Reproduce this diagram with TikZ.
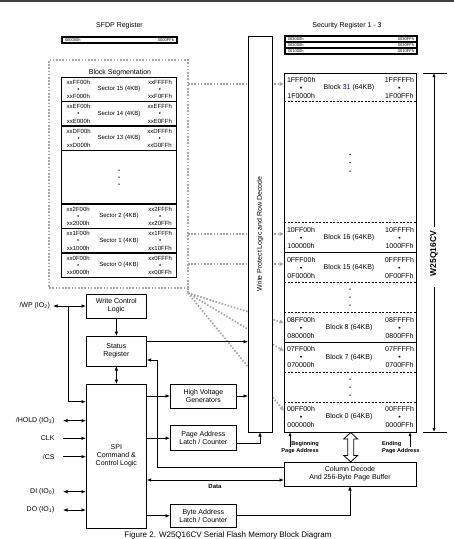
\documentclass[tikz,border=0pt]{standalone}
\usepackage{fontspec}
\setmainfont{Liberation Sans}
\usetikzlibrary{arrows.meta}
\newcommand\sectorrow[7]{%
  \node[st,anchor=west] (#1l) at (66.7,#2) {#3\\•\\#4};
  \node[st] (#1c) at (119,#2) {#5};
  \node[st,anchor=east] (#1r) at (172,#2) {#6\\•\\#7};}
\newcommand\memrow[7]{%
  \node[mt,anchor=west] (#1l) at (287,#2) {#3\\•\\#4};
  \node[mt] (#1c) at (349,#2) {#5};
  \node[mt,anchor=east] (#1r) at (414,#2) {#6\\•\\#7};}
\begin{document}
\begin{tikzpicture}[x=1pt,y=-1pt,
  box/.style={draw,line width=0.9pt,inner sep=0pt,outer sep=0pt,align=center,font=\fontsize{7}{8}\selectfont},
  ln/.style={line width=0.8pt},
  arr/.style={ln,-{Latex[length=4.5pt,width=3.6pt]}},
  darr/.style={ln,{Latex[length=4.5pt,width=3.6pt]}-{Latex[length=4.5pt,width=3.6pt]}},
  smallarr/.style={ln,-{Latex[length=4pt,width=3pt]}},
  dotline/.style={draw=gray!70,line width=1.7pt,dash pattern=on 1.6pt off 1.6pt},
  dotarr/.style={dotline,-{Latex[length=4.5pt,width=4.5pt]}},
  dashline/.style={line width=0.8pt,dash pattern=on 2pt off 1.5pt},
  st/.style={inner sep=0pt,outer sep=0pt,align=center,font=\fontsize{6}{7.2}\selectfont},
  mt/.style={inner sep=0pt,outer sep=0pt,align=center,font=\fontsize{7}{8}\selectfont},
  tt/.style={inner sep=0pt,outer sep=0pt,font=\fontsize{7}{8}\selectfont},
  tiny/.style={inner sep=0pt,outer sep=0pt,font=\fontsize{4}{4}\selectfont},
  pin/.style={inner sep=0pt,outer sep=8.5pt,anchor=east,font=\fontsize{7}{8}\selectfont},
  sepline/.style={line width=1.3pt},
  ddot/.style={fill=black}
]
\useasboundingbox (0,0) rectangle (454,539);
\draw[line width=1.5pt,black!75] (0,0.75) -- (454,0.75);

% titles
\node[tt] (sfdpt) at (119.5,25.5) {SFDP Register};
\node[tt] (sect) at (347,25.5) {Security Register 1 - 3};

% SFDP register
\node[draw,line width=1.1pt,minimum width=115pt,minimum height=6pt,inner sep=0pt,outer sep=0pt] (sfdp) at (119.5,40) {};
\node[tiny,anchor=west] (sfdpa) at ([xshift=3pt]sfdp.west) {000000h};
\node[tiny,anchor=east] (sfdpb) at ([xshift=-3pt]sfdp.east) {0000FFh};

% security registers
\foreach \i/\yy/\a/\b in {1/39/003000h/0030FFh,2/45/002000h/0020FFh,3/51/001000h/0010FFh}{
  \node[draw,line width=1.1pt,minimum width=132pt,minimum height=6pt,inner sep=0pt,outer sep=0pt] (sr\i) at (351,\yy) {};
  \node[tiny,anchor=west] (sr\i a) at ([xshift=3pt]sr\i.west) {\a};
  \node[tiny,anchor=east] (sr\i b) at ([xshift=-3pt]sr\i.east) {\b};
}

% block segmentation area
\node[minimum width=139pt,minimum height=228pt,inner sep=0pt,outer sep=0pt] (bseg) at (118.5,174) {};
\draw[dotline] (bseg.south east) rectangle (bseg.north west);
\node[tt] (bsegt) at (120,73) {Block Segmentation};
\node[draw,line width=0.9pt,minimum width=114.3pt,minimum height=200.5pt,inner sep=0pt,outer sep=0pt] (secbox) at (118.85,177.25) {};
\foreach \yy in {101.5,126,150.5,204,228.5,253}{
  \draw[sepline] (secbox.west |- 0,\yy) -- (secbox.east |- 0,\yy);
}
\sectorrow{s15}{89.25}{xxFF00h}{xxF000h}{Sector 15 (4KB)}{xxFFFFh}{xxF0FFh}
\sectorrow{s14}{113.75}{xxEF00h}{xxE000h}{Sector 14 (4KB)}{xxEFFFh}{xxE0FFh}
\sectorrow{s13}{138.25}{xxDF00h}{xxD000h}{Sector 13 (4KB)}{xxDFFFh}{xxD0FFh}
\sectorrow{s2}{216.25}{xx2F00h}{xx2000h}{Sector 2 (4KB)}{xx2FFFh}{xx20FFh}
\sectorrow{s1}{240.75}{xx1F00h}{xx1000h}{Sector 1 (4KB)}{xx1FFFh}{xx10FFh}
\sectorrow{s0}{265.25}{xx0F00h}{xx0000h}{Sector 0 (4KB)}{xx0FFFh}{xx00FFh}
\foreach \yy in {170,177,184}{\fill (119,\yy) circle (0.75pt);}

% memory array
\node[draw,line width=0.9pt,minimum width=132pt,minimum height=359pt,inner sep=0pt,outer sep=0pt] (arr) at (350,252.5) {};
\foreach \yy in {101.7,222.7,282,312,372,402}{
  \draw[dashline] (arr.west |- 0,\yy) -- (arr.east |- 0,\yy);
}
\foreach \yy in {252.7,342.7}{
  \draw[line width=0.9pt] (arr.west |- 0,\yy) -- (arr.east |- 0,\yy);
}
\memrow{b31}{87.6}{1FFF00h}{1F0000h}{Block \textcolor{blue!65!black}{31} (64KB)}{1FFFFFh}{1F00FFh}
\memrow{b16}{237.7}{10FF00h}{100000h}{Block 16 (64KB)}{10FFFFh}{1000FFh}
\memrow{b15}{267.5}{0FFF00h}{0F0000h}{Block 15 (64KB)}{0FFFFFh}{0F00FFh}
\memrow{b8}{327.5}{08FF00h}{080000h}{Block 8 (64KB)}{08FFFFh}{0800FFh}
\memrow{b7}{357.3}{07FF00h}{070000h}{Block 7 (64KB)}{07FFFFh}{0700FFh}
\memrow{b0}{417}{00FF00h}{000000h}{Block 0 (64KB)}{00FFFFh}{0000FFh}
\foreach \yy in {154.3,162.6,171,289,297,305,379,387,395}{\fill (350,\yy) circle (0.75pt);}

% dotted mapping lines
\coordinate (g1) at (bseg.east |- 0,84);
\coordinate (g2) at (bseg.east |- 0,234);
\coordinate (g3) at (bseg.east |- 0,264);
\draw[dotarr] (g1) -- (g1 -| arr.west);
\draw[dotarr] (g2) -- (g2 -| arr.west);
\draw[dotarr] (g3) -- (g3 -| arr.west);
\coordinate (fan) at ([yshift=-5pt]bseg.south east);
\coordinate (t8) at (arr.west |- 0,323);
\coordinate (t7) at (arr.west |- 0,351);
\coordinate (t0) at (arr.west |- 0,411);
\draw[dotline] (bseg.south east) -- (fan);
\draw[dotarr] (fan) -- (t8);
\draw[dotarr] (fan) -- (t7);
\draw[dotarr] (fan) -- (t0);

% write protect column
\node[draw,fill=white,line width=0.9pt,minimum width=24pt,minimum height=396pt,inner sep=0pt,outer sep=0pt] (wp) at (260,234) {};
\node[tt,rotate=90] (wpt) at (wp.center) {Write Protect Logic and Row Decode};

% W25Q16CV dimension
\coordinate (dtop) at ([xshift=18pt]arr.north east);
\coordinate (dbot) at ([xshift=18pt]arr.south east);
\draw[ln] ([xshift=-11pt]dtop) -- ([xshift=13pt]dtop);
\draw[ln] ([xshift=-11pt]dbot) -- ([xshift=13pt]dbot);
\node[inner sep=0pt,rotate=90,font=\fontsize{8.5}{9}\selectfont\bfseries] (dname) at (434,253.5) {W25Q16CV};
\draw[smallarr] ([yshift=-154pt]dtop) -- (dtop);
\draw[smallarr] ([yshift=145pt]dbot) -- (dbot);

% logic boxes
\node[box,minimum width=60.7pt,minimum height=24pt] (wcl) at (116.35,306) {Write Control\\Logic};
\node[box,minimum width=60.7pt,minimum height=30pt] (status) at (116.35,351) {Status\\Register};
\node[box,minimum width=60.7pt,minimum height=144pt] (spi) at (116.35,456) {SPI\\Command \&\\Control Logic};
\node[box,minimum width=66.7pt,minimum height=24pt] (hvg) at (203.35,396) {High Voltage\\Generators};
\node[box,minimum width=66.7pt,minimum height=25pt] (pal) at (203.35,438.2) {Page Address\\Latch / Counter};
\node[box,minimum width=66.7pt,minimum height=23pt] (bal) at (203.35,515.8) {Byte Address\\Latch / Counter};
\node[box,minimum width=132pt,minimum height=24pt] (coldec) at (350,474) {Column Decode\\And 256-Byte Page Buffer};

% hollow double arrow between array and column decode
\draw[line width=0.8pt,fill=white] (350.7,432.5) -- (357.7,439) -- (353.7,439) -- (353.7,455.5) -- (357.7,455.5) -- (350.7,461.8) -- (343.7,455.5) -- (347.7,455.5) -- (347.7,439) -- (343.7,439) -- cycle;

% page address labels
\node[inner sep=0pt,anchor=east,align=right,font=\fontsize{5.6}{7}\selectfont\bfseries] (begl) at (319,447.5) {Beginning\\Page Address};
\node[inner sep=0pt,anchor=west,align=left,font=\fontsize{5.6}{7}\selectfont\bfseries] (endl) at (382,447.5) {Ending\\Page Address};
\coordinate (bp) at ([xshift=6pt]arr.south west);
\coordinate (ep) at ([xshift=-6pt]arr.south east);
\draw[smallarr] ([yshift=-15pt]bp) -- (bp);
\draw[smallarr] ([yshift=-15pt]ep) -- (ep);

% pins
\node[pin,outer sep=3pt] (pwp) at (53,306) {/WP (IO\textsubscript{2})};
\node[pin] (phold) at (63,420.7) {/HOLD (IO\textsubscript{3})};
\node[pin] (pclk) at (63,438.3) {CLK};
\node[pin] (pcs) at (63,456.7) {/CS};
\node[pin] (pdi) at (63,491.7) {DI (IO\textsubscript{0})};
\node[pin] (pdo) at (63,510) {DO (IO\textsubscript{1})};

\draw[darr] (pwp) -- (pwp -| wcl.west);
\coordinate (wpj) at ([xshift=15pt]pwp.east);
\coordinate (wpk) at ([yshift=54.3pt]spi.west);
\draw[arr] (wpj) |- (wpk);
\draw[darr] (phold) -- (phold -| spi.west);
\draw[arr] (pclk) -- (pclk -| spi.west);
\draw[arr] (pcs) -- (pcs -| spi.west);
\draw[darr] (pdi) -- (pdi -| spi.west);
\draw[darr] (pdo) -- (pdo -| spi.west);

% internal connectors
\draw[arr] (wcl) -- (status);
\draw[darr] (status) -- (spi);
\coordinate (s1) at ([yshift=9.3pt]status.east);
\draw[arr] (s1) -- (s1 -| wp.west);
\coordinate (s2) at ([yshift=-9pt]status.east);
\coordinate (c1) at ([yshift=6.3pt]coldec.west);
\draw[arr] (c1) -| ([xshift=10.7pt]s2) -- (s2);
\draw[arr] (spi.east |- hvg) -- (hvg);
\draw[arr] (hvg) -- (hvg -| wp.west);
\draw[arr] (spi.east |- pal) -- (pal);
\coordinate (p1) at ([yshift=-5.1pt]pal.east);
\draw[arr] (p1) -| (wp.south);
\coordinate (d1) at ([yshift=-6pt]coldec.west);
\draw[darr] (d1 -| spi.east) -- (d1);
\node[inner sep=0pt,font=\fontsize{6}{7}\selectfont\bfseries] (datal) at (215,486.5) {Data};
\draw[arr] (spi.east |- bal) -- (bal);
\draw[arr] (bal) -| (coldec.south);

% caption
\node[inner sep=0pt,font=\fontsize{8}{9}\selectfont] (cap) at (228,535.5) {Figure 2. W25Q16CV Serial Flash Memory Block Diagram};
\end{tikzpicture}
\end{document}
